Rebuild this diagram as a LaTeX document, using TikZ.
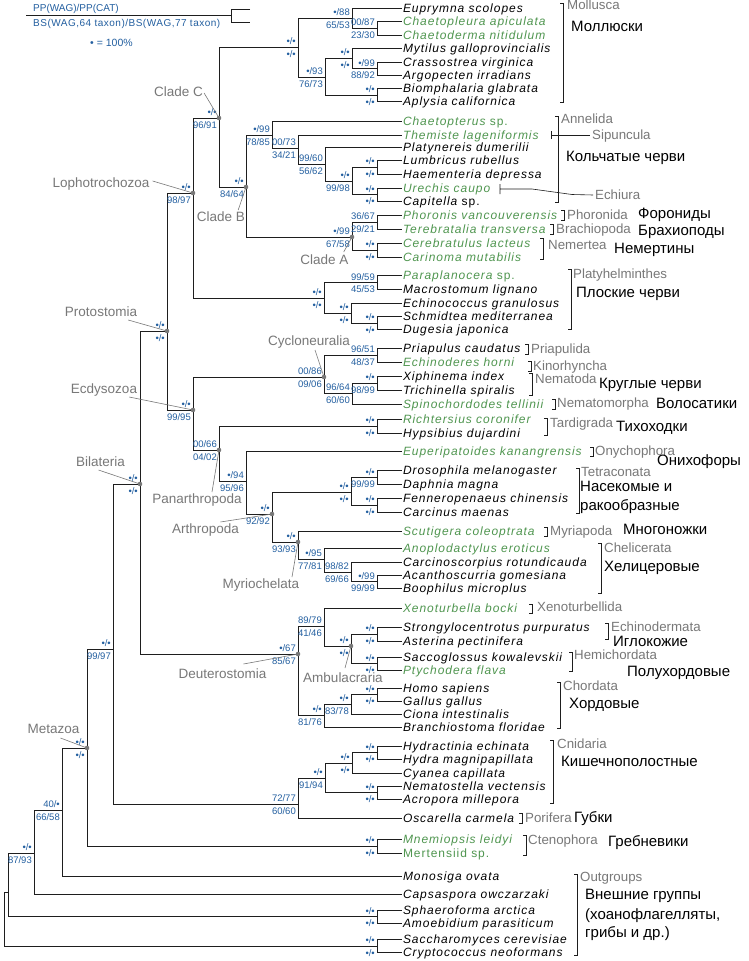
\documentclass[tikz,border=0pt]{standalone}
\usepackage{fontspec}
\setmainfont{Liberation Sans}
\newfontfamily\spfam{Liberation Sans}[LetterSpace=8]
\newfontfamily\lgfam{Liberation Sans}[LetterSpace=5]
\definecolor{blu}{RGB}{35,95,160}
\definecolor{grn}{RGB}{80,150,80}
\definecolor{gry}{RGB}{120,120,120}
\definecolor{ln}{RGB}{30,30,30}
\newcommand\bsv[3]{%
 \node[bsl,anchor=base east] (#1t) at ([shift={(-2,-2.5)}]#1) {#2};
 \node[bsl,anchor=base east] (#1b) at ([shift={(-2,10)}]#1) {#3};}
\newcommand\grpbr[3]{\draw[brk] (#1-3,#2) -- (#1,#2) -- (#1,#3) -- (#1-3,#3);}
\begin{document}
\begin{tikzpicture}[x=1pt,y=-1pt,
 tr/.style={draw=ln,line width=0.8pt},
 sp/.style={anchor=west,inner sep=1pt,outer sep=0pt,font=\fontsize{12}{14}\selectfont\spfam\itshape,text height=8.6pt,text depth=0pt},
 gsp/.style={sp,text=grn},
 bsl/.style={inner sep=0pt,font=\fontsize{9.5}{10}\selectfont,text=blu},
 clade/.style={inner sep=0pt,font=\fontsize{13.5}{15}\selectfont,text=gry,text height=9.6pt,text depth=0pt},
 grp/.style={anchor=west,inner sep=0pt,font=\fontsize{13.3}{15}\selectfont,text=gry,text height=9.5pt,text depth=0pt},
 rus/.style={anchor=west,inner sep=0pt,font=\fontsize{15}{19}\selectfont,text=black,text height=10.7pt,text depth=0pt},
 brk/.style={draw=ln,line width=0.6pt},
 cl/.style={draw=gry,line width=0.6pt},
 cdot/.style={fill=gry},
 lg/.style={anchor=west,inner sep=0pt,text=blu}
]
\fill[white] (0,0) rectangle (748,961);
\useasboundingbox (0,0) rectangle (748,961);

% legend
\node[lg,font=\fontsize{10}{11}\selectfont] (lgPP) at (33,9) {PP(WAG)/PP(CAT)};
\node[lg,font=\fontsize{10}{11}\selectfont\lgfam] (lgBS) at (33,24) {BS(WAG,64 taxon)/BS(WAG,77 taxon)};
\node[lg,font=\fontsize{10.5}{11}\selectfont] (lgDot) at (90,43) {• = 100\%};
\coordinate (lgA) at (26,15); \coordinate (lgB) at (231,15);
\coordinate (lgC) at (250,9); \coordinate (lgD) at (231,9);
\coordinate (lgE) at (231,22); \coordinate (lgF) at (250,22);
\draw[tr] (lgA) -- (lgB);
\draw[tr] (lgC) -- (lgD) -- (lgE) -- (lgF);

% internal nodes
\coordinate (R) at (4,919);
\coordinate (A) at (8,892);
\coordinate (B) at (34,853);
\coordinate (C) at (62,810);
\coordinate (MZ) at (87,748);
\coordinate (D) at (113,649);
\coordinate (BI) at (140,484);
\coordinate (PR) at (167,331);
\coordinate (LO) at (193,193);
\coordinate (CC) at (219,118);
\coordinate (MO) at (298,47);
\coordinate (M1) at (352,18);
\coordinate (c1) at (377,28.25);
\coordinate (M2) at (325,77);
\coordinate (M3) at (352,58);
\coordinate (c2) at (377,68.5);
\coordinate (c3) at (377,95);
\coordinate (CB) at (246,187);
\coordinate (AN1) at (272,135);
\coordinate (AN2) at (298,148);
\coordinate (AN3) at (325,164);
\coordinate (AN4) at (352,181);
\coordinate (c4) at (377,167.25);
\coordinate (c5) at (377,194.5);
\coordinate (CA) at (352,237);
\coordinate (c6) at (377,222);
\coordinate (c7) at (377,250);
\coordinate (PL) at (324,298);
\coordinate (c8) at (377,282.5);
\coordinate (PL2) at (351,313);
\coordinate (c9) at (377,323);
\coordinate (EC) at (193,410);
\coordinate (CY) at (324,377);
\coordinate (c10) at (377,355);
\coordinate (NN) at (352,393);
\coordinate (c11) at (377,383);
\coordinate (PA) at (219,450);
\coordinate (c12) at (377,426);
\coordinate (OA) at (246,481);
\coordinate (AR) at (272,514);
\coordinate (TE) at (351,492);
\coordinate (c13) at (377,477.5);
\coordinate (c14) at (377,505);
\coordinate (MY) at (298,542);
\coordinate (CH1) at (324,559);
\coordinate (CH2) at (351,572);
\coordinate (c15) at (377,581.5);
\coordinate (DE) at (298,654);
\coordinate (XA) at (324,626);
\coordinate (AM) at (351,646);
\coordinate (c16) at (377,634);
\coordinate (c17) at (377,663.5);
\coordinate (CHO) at (324,715);
\coordinate (CO2) at (351,704);
\coordinate (c18) at (377,694.5);
\coordinate (E) at (298,804);
\coordinate (CN) at (325,778);
\coordinate (CN2) at (352,763);
\coordinate (c19) at (377,752.5);
\coordinate (c20) at (377,792.5);
\coordinate (c21) at (377,846);
\coordinate (c22) at (377,916.5);
\coordinate (c23) at (377,946);

% leaves
\node[sp]  (L1)  at (402,8)     {Euprymna scolopes};
\node[gsp] (L2)  at (402,21.5)  {Chaetopleura apiculata};
\node[gsp] (L3)  at (402,35)    {Chaetoderma nitidulum};
\node[sp]  (L4)  at (402,48.5)  {Mytilus galloprovincialis};
\node[sp]  (L5)  at (402,62)    {Crassostrea virginica};
\node[sp]  (L6)  at (402,75)    {Argopecten irradians};
\node[sp]  (L7)  at (402,88.5)  {Biomphalaria glabrata};
\node[sp]  (L8)  at (402,101.5) {Aplysia californica};
\node[gsp] (L9)  at (402,121)   {Chaetopterus \upshape sp.};
\node[gsp] (L10) at (402,135)   {Themiste lageniformis};
\node[sp]  (L11) at (402,147.5) {Platynereis dumerilii};
\node[sp]  (L12) at (402,160.5) {Lumbricus rubellus};
\node[sp]  (L13) at (402,174)   {Haementeria depressa};
\node[gsp] (L14) at (402,188)   {Urechis caupo};
\node[sp]  (L15) at (402,201)   {Capitella \upshape sp.};
\node[gsp] (L16) at (402,215)   {Phoronis vancouverensis};
\node[gsp] (L17) at (402,229)   {Terebratalia transversa};
\node[gsp] (L18) at (402,243)   {Cerebratulus lacteus};
\node[gsp] (L19) at (402,257)   {Carinoma mutabilis};
\node[gsp] (L20) at (402,275.5) {Paraplanocera \upshape sp.};
\node[sp]  (L21) at (402,289.5) {Macrostomum lignano};
\node[sp]  (L22) at (402,303)   {Echinococcus granulosus};
\node[sp]  (L23) at (402,316.5) {Schmidtea mediterranea};
\node[sp]  (L24) at (402,329.5) {Dugesia japonica};
\node[sp]  (L25) at (402,348)   {Priapulus caudatus};
\node[gsp] (L26) at (402,362)   {Echinoderes horni};
\node[sp]  (L27) at (402,376)   {Xiphinema index};
\node[sp]  (L28) at (402,390)   {Trichinella spiralis};
\node[gsp] (L29) at (402,404)   {Spinochordodes tellinii};
\node[gsp] (L30) at (402,419)   {Richtersius coronifer};
\node[sp]  (L31) at (402,433)   {Hypsibius dujardini};
\node[gsp] (L32) at (402,451)   {Euperipatoides kanangrensis};
\node[sp]  (L33) at (402,470.5) {Drosophila melanogaster};
\node[sp]  (L34) at (402,484.5) {Daphnia magna};
\node[sp]  (L35) at (402,498)   {Fenneropenaeus chinensis};
\node[sp]  (L36) at (402,512)   {Carcinus maenas};
\node[gsp] (L37) at (402,531)   {Scutigera coleoptrata};
\node[gsp] (L38) at (402,548)   {Anoplodactylus eroticus};
\node[sp]  (L39) at (402,562)   {Carcinoscorpius rotundicauda};
\node[sp]  (L40) at (402,575)   {Acanthoscurria gomesiana};
\node[sp]  (L41) at (402,588)   {Boophilus microplus};
\node[gsp] (L42) at (402,608)   {Xenoturbella bocki};
\node[sp]  (L43) at (402,627)   {Strongylocentrotus purpuratus};
\node[sp]  (L44) at (402,641)   {Asterina pectinifera};
\node[sp]  (L45) at (402,657)   {Saccoglossus kowalevskii};
\node[gsp] (L46) at (402,670)   {Ptychodera flava};
\node[sp]  (L47) at (402,688)   {Homo sapiens};
\node[sp]  (L48) at (402,701)   {Gallus gallus};
\node[sp]  (L49) at (402,714)   {Ciona intestinalis};
\node[sp]  (L50) at (402,727)   {Branchiostoma floridae};
\node[sp]  (L51) at (402,746)   {Hydractinia echinata};
\node[sp]  (L52) at (402,759)   {Hydra magnipapillata};
\node[sp]  (L53) at (402,773)   {Cyanea capillata};
\node[sp]  (L54) at (402,786)   {Nematostella vectensis};
\node[sp]  (L55) at (402,799)   {Acropora millepora};
\node[sp]  (L56) at (402,818)   {Oscarella carmela};
\node[gsp] (L57) at (402,839)   {Mnemiopsis leidyi};
\node[gsp] (L58) at (402,853)   {\upshape Mertensiid sp.};
\node[sp]  (L59) at (402,876)   {Monosiga ovata};
\node[sp]  (L60) at (402,894)   {Capsaspora owczarzaki};
\node[sp]  (L61) at (402,910)   {Sphaeroforma arctica};
\node[sp]  (L62) at (402,923)   {Amoebidium parasiticum};
\node[sp]  (L63) at (402,939.5) {Saccharomyces cerevisiae};
\node[sp]  (L64) at (402,952.5) {Cryptococcus neoformans};

% branches
\draw[tr] (R) |- (A) (R) |- (c23)
 (A) |- (B) (A) |- (c22)
 (B) |- (C) (B) |- (L60.west)
 (C) |- (MZ) (C) |- (L59.west)
 (MZ) |- (D) (MZ) |- (c21)
 (D) |- (BI) (D) |- (E)
 (BI) |- (PR) (BI) |- (DE)
 (PR) |- (LO) (PR) |- (EC)
 (LO) |- (CC) (LO) |- (PL)
 (CC) |- (MO) (CC) |- (CB)
 (MO) |- (M1) (MO) |- (M2)
 (M1) |- (L1.west) (M1) |- (c1)
 (c1) |- (L2.west) (c1) |- (L3.west)
 (M2) |- (M3) (M2) |- (c3)
 (M3) |- (L4.west) (M3) |- (c2)
 (c2) |- (L5.west) (c2) |- (L6.west)
 (c3) |- (L7.west) (c3) |- (L8.west)
 (CB) |- (AN1) (CB) |- (CA)
 (AN1) |- (L9.west) (AN1) |- (AN2)
 (AN2) |- (L10.west) (AN2) |- (AN3)
 (AN3) |- (L11.west) (AN3) |- (AN4)
 (AN4) |- (c4) (AN4) |- (c5)
 (c4) |- (L12.west) (c4) |- (L13.west)
 (c5) |- (L14.west) (c5) |- (L15.west)
 (CA) |- (c6) (CA) |- (c7)
 (c6) |- (L16.west) (c6) |- (L17.west)
 (c7) |- (L18.west) (c7) |- (L19.west)
 (PL) |- (c8) (PL) |- (PL2)
 (c8) |- (L20.west) (c8) |- (L21.west)
 (PL2) |- (L22.west) (PL2) |- (c9)
 (c9) |- (L23.west) (c9) |- (L24.west)
 (EC) |- (CY) (EC) |- (PA)
 (CY) |- (c10) (CY) |- (NN)
 (c10) |- (L25.west) (c10) |- (L26.west)
 (NN) |- (c11) (NN) |- (L29.west)
 (c11) |- (L27.west) (c11) |- (L28.west)
 (PA) |- (c12) (PA) |- (OA)
 (c12) |- (L30.west) (c12) |- (L31.west)
 (OA) |- (L32.west) (OA) |- (AR)
 (AR) |- (TE) (AR) |- (MY)
 (TE) |- (c13) (TE) |- (c14)
 (c13) |- (L33.west) (c13) |- (L34.west)
 (c14) |- (L35.west) (c14) |- (L36.west)
 (MY) |- (L37.west) (MY) |- (CH1)
 (CH1) |- (L38.west) (CH1) |- (CH2)
 (CH2) |- (L39.west) (CH2) |- (c15)
 (c15) |- (L40.west) (c15) |- (L41.west)
 (DE) |- (XA) (DE) |- (CHO)
 (XA) |- (L42.west) (XA) |- (AM)
 (AM) |- (c16) (AM) |- (c17)
 (c16) |- (L43.west) (c16) |- (L44.west)
 (c17) |- (L45.west) (c17) |- (L46.west)
 (CHO) |- (CO2) (CHO) |- (L50.west)
 (CO2) |- (c18) (CO2) |- (L49.west)
 (c18) |- (L47.west) (c18) |- (L48.west)
 (E) |- (CN) (E) |- (L56.west)
 (CN) |- (CN2) (CN) |- (c20)
 (CN2) |- (c19) (CN2) |- (L53.west)
 (c19) |- (L51.west) (c19) |- (L52.west)
 (c20) |- (L54.west) (c20) |- (L55.west)
 (c21) |- (L57.west) (c21) |- (L58.west)
 (c22) |- (L61.west) (c22) |- (L62.west)
 (c23) |- (L63.west) (c23) |- (L64.west);

% support values
\bsv{MO}{•/•}{•/•}
\bsv{M1}{•/88}{65/53}
\bsv{c1}{00/87}{23/30}
\bsv{M2}{•/93}{76/73}
\bsv{M3}{•/•}{•/•}
\bsv{c2}{•/99}{88/92}
\bsv{c3}{•/•}{•/•}
\bsv{CC}{•/•}{96/91}
\bsv{LO}{•/•}{98/97}
\bsv{CB}{•/•}{84/64}
\bsv{AN1}{•/99}{78/85}
\bsv{AN2}{00/73}{34/21}
\bsv{AN3}{99/60}{56/62}
\bsv{AN4}{•/•}{99/98}
\bsv{c4}{•/•}{•/•}
\bsv{c5}{•/•}{•/•}
\bsv{c6}{36/67}{29/21}
\bsv{CA}{•/99}{67/58}
\bsv{c7}{•/•}{•/•}
\bsv{PL}{•/•}{•/•}
\bsv{c8}{99/59}{45/53}
\bsv{PL2}{•/•}{•/•}
\bsv{c9}{•/•}{•/•}
\bsv{PR}{•/•}{•/•}
\bsv{CY}{00/86}{09/06}
\bsv{c10}{96/51}{48/37}
\bsv{NN}{96/64}{60/60}
\bsv{c11}{•/•}{98/99}
\bsv{EC}{•/•}{99/95}
\bsv{c12}{•/•}{•/•}
\bsv{PA}{00/66}{04/02}
\bsv{OA}{•/94}{95/96}
\bsv{AR}{•/•}{92/92}
\bsv{TE}{•/•}{•/•}
\bsv{c13}{•/•}{99/99}
\bsv{c14}{•/•}{•/•}
\bsv{MY}{•/•}{93/93}
\bsv{CH1}{•/95}{77/81}
\bsv{CH2}{98/82}{69/66}
\bsv{c15}{•/99}{99/99}
\bsv{BI}{•/•}{•/•}
\bsv{DE}{•/67}{85/67}
\bsv{XA}{89/79}{41/46}
\bsv{AM}{•/•}{•/•}
\bsv{c16}{•/•}{•/•}
\bsv{c17}{•/•}{•/•}
\bsv{CHO}{•/•}{81/76}
\bsv{CO2}{•/•}{83/78}
\bsv{c18}{•/•}{•/•}
\bsv{D}{•/•}{99/97}
\bsv{E}{72/77}{60/60}
\bsv{CN}{•/•}{91/94}
\bsv{CN2}{•/•}{•/•}
\bsv{c19}{•/•}{•/•}
\bsv{c20}{•/•}{•/•}
\bsv{MZ}{•/•}{•/•}
\bsv{c21}{•/•}{•/•}
\bsv{C}{40/•}{66/58}
\bsv{B}{•/•}{87/93}
\bsv{c22}{•/•}{•/•}
\bsv{c23}{•/•}{•/•}

% clade labels
\node[clade] (tCC) at (178.5,92) {Clade C};
\node[clade] (tLO) at (101,183) {Lophotrochozoa};
\node[clade] (tCB) at (221,217) {Clade B};
\node[clade] (tCA) at (324.5,260) {Clade A};
\node[clade] (tPR) at (101,312) {Protostomia};
\node[clade] (tCY) at (309,341) {Cycloneuralia};
\node[clade] (tEC) at (104,389) {Ecdysozoa};
\node[clade] (tBI) at (100.5,462) {Bilateria};
\node[clade] (tPA) at (197,499) {Panarthropoda};
\node[clade] (tAR) at (205.5,529) {Arthropoda};
\node[clade] (tMY) at (261,584) {Myriochelata};
\node[clade] (tDE) at (222.5,674) {Deuterostomia};
\node[clade] (tAM) at (343,678) {Ambulacraria};
\node[clade] (tMZ) at (53.5,729) {Metazoa};
\draw[cl] ([shift={(1,1)}]tCC.east) -- (CC);
\draw[cl] ([shift={(3,-2)}]tLO.east) -- (LO);
\draw[cl] ([shift={(-7,-2)}]tCB.north east) -- (CB);
\draw[cl] ([shift={(-5,-3)}]tCA.north east) -- (CA);
\draw[cl] ([shift={(-9,3)}]tPR.south east) -- (PR);
\draw[cl] ([shift={(6,4)}]tCY.south) -- (CY);
\draw[cl] ([shift={(-8,3)}]tEC.south east) -- (EC);
\draw[cl] ([shift={(-2,3)}]tBI.south) -- (BI);
\draw[cl] ([shift={(15,-2)}]tPA.north) -- (PA);
\draw[cl] ([shift={(15,-2)}]tAR.north) -- (AR);
\draw[cl] ([shift={(31,-2)}]tMY.north) -- (MY);
\draw[cl] ([shift={(21,-5)}]tDE.north) -- (DE);
\draw[cl] ([shift={(2,-5)}]tAM.north) -- (AM);
\draw[cl] ([shift={(7,4)}]tMZ.south) -- (MZ);
\foreach \n in {CC,LO,CB,CA,PR,CY,EC,BI,PA,AR,MY,DE,AM,MZ} \fill[cdot] (\n) circle (2.3);

% group brackets and names
\grpbr{563}{3}{102}
\node[grp] (gMol) at (567,5) {Mollusca};
\node[rus] (rMol) at (571,26) {Моллюски};
\grpbr{558}{116}{202}
\node[grp] (gAnn) at (561,119) {Annelida};
\node[rus] (rAnn) at (566,156) {Кольчатые черви};
\coordinate (sipA) at (551,131); \coordinate (sipB) at (551,139);
\coordinate (sipC) at (551,135); \coordinate (sipD) at (590,135);
\draw[brk] (sipA) -- (sipB) (sipC) -- (sipD);
\node[grp] (gSip) at (592,135) {Sipuncula};
\coordinate (echA) at (500,184); \coordinate (echB) at (500,194);
\coordinate (echC) at (500,189); \coordinate (echD) at (532,189);
\coordinate (echE) at (572,194.5); \coordinate (echF) at (593,195);
\draw[brk] (echA) -- (echB) (echC) -- (echD) -- (echE) -- (echF);
\node[grp] (gEch) at (595,195) {Echiura};
\grpbr{564}{210}{220}
\node[grp] (gPho) at (567,215) {Phoronida};
\node[rus] (rPho) at (638,213) {Форониды};
\grpbr{553}{224.5}{234}
\node[grp] (gBra) at (556,229) {Brachiopoda};
\node[rus] (rBra) at (638,230) {Брахиоподы};
\grpbr{543}{238}{259}
\node[grp] (gNem) at (548,245) {Nemertea};
\node[rus] (rNem) at (614,248) {Немертины};
\grpbr{571}{269}{329}
\node[grp] (gPla) at (573,274) {Platyhelminthes};
\node[rus] (rPla) at (576,292) {Плоские черви};
\grpbr{528}{344}{354}
\node[grp] (gPri) at (531,349) {Priapulida};
\grpbr{531}{361}{371}
\node[grp] (gKin) at (533,366) {Kinorhyncha};
\grpbr{532}{373}{395}
\node[grp] (gNmt) at (535,379) {Nematoda};
\node[rus] (rNmt) at (599,383) {Круглые черви};
\grpbr{555}{399}{409}
\node[grp] (gNmm) at (557,403) {Nematomorpha};
\node[rus] (rNmm) at (656,403) {Волосатики};
\grpbr{547}{418}{435}
\node[grp] (gTar) at (550,423) {Tardigrada};
\node[rus] (rTar) at (616,426) {Тихоходки};
\grpbr{593}{447}{456}
\node[grp] (gOny) at (595,451) {Onychophora};
\node[rus] (rOny) at (657,460) {Онихофоры};
\grpbr{579}{468}{513}
\node[grp] (gTet) at (581,472) {Tetraconata};
\node[rus] (rTet1) at (580,486) {Насекомые и};
\node[rus] (rTet2) at (580,505) {ракообразные};
\grpbr{547}{527}{536}
\node[grp] (gMyr) at (550,531) {Myriapoda};
\node[rus] (rMyr) at (623,529) {Многоножки};
\grpbr{601}{543}{593}
\node[grp] (gChe) at (604,548) {Chelicerata};
\node[rus] (rChe) at (604,566) {Хелицеровые};
\grpbr{532}{604}{613}
\node[grp] (gXen) at (537,607) {Xenoturbellida};
\grpbr{608}{623}{639}
\node[grp] (gEcd) at (611,627) {Echinodermata};
\node[rus] (rEcd) at (613,641) {Иглокожие};
\grpbr{572}{652}{671}
\node[grp] (gHem) at (574,655) {Hemichordata};
\node[rus] (rHem) at (627,671) {Полухордовые};
\grpbr{560}{682}{728}
\node[grp] (gCho) at (563,686) {Chordata};
\node[rus] (rCho) at (569,703) {Хордовые};
\grpbr{553}{740}{803}
\node[grp] (gCni) at (557,744) {Cnidaria};
\node[rus] (rCni) at (561,761) {Кишечнополостные};
\grpbr{522}{813}{823}
\node[grp] (gPor) at (525,818) {Porifera};
\node[rus] (rPor) at (574,817) {Губки};
\grpbr{526}{835}{855}
\node[grp] (gCte) at (528,840) {Ctenophora};
\node[rus] (rCte) at (608,841) {Гребневики};
\grpbr{577}{874}{955}
\node[grp] (gOut) at (580,877) {Outgroups};
\node[rus] (rOut1) at (585,894) {Внешние группы};
\node[rus] (rOut2) at (585,914) {(хоанофлагелляты,};
\node[rus] (rOut3) at (585,932) {грибы и др.)};
\end{tikzpicture}
\end{document}
